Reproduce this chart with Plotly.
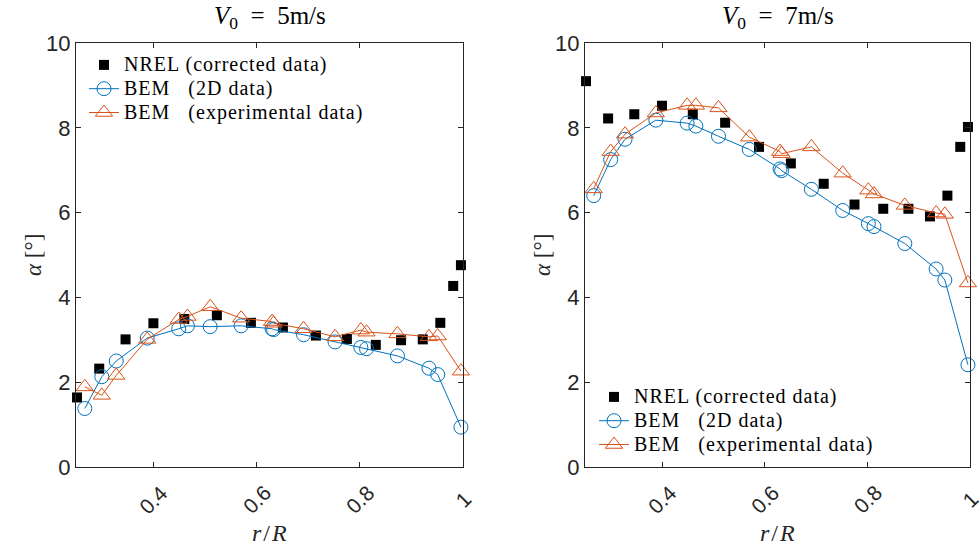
import plotly.graph_objects as go

# ---------------- data ----------------
r_nrel = [0.252, 0.295, 0.346, 0.400, 0.460, 0.523, 0.589, 0.651, 0.715,
          0.775, 0.831, 0.880, 0.922, 0.956, 0.981, 0.996]
alpha_nrel_5 = [1.64, 2.32, 3.01, 3.39, 3.49, 3.58, 3.40, 3.29, 3.10,
                3.02, 2.88, 2.99, 3.01, 3.40, 4.27, 4.76]
alpha_nrel_7 = [9.10, 8.22, 8.32, 8.52, 8.32, 8.12, 7.55, 7.16, 6.68,
                6.19, 6.09, 6.09, 5.91, 6.40, 7.55, 8.02]

r_bem = [0.267, 0.300, 0.328, 0.388, 0.449, 0.466, 0.510, 0.570, 0.630,
         0.633, 0.691, 0.752, 0.802, 0.813, 0.873, 0.934, 0.951, 0.996]
alpha_2d_5 = [1.38, 2.13, 2.50, 3.04, 3.26, 3.33, 3.31, 3.33, 3.26,
              3.24, 3.12, 2.95, 2.82, 2.79, 2.62, 2.33, 2.18, 0.94]
alpha_exp_5 = [1.89, 1.69, 2.16, 3.01, 3.48, 3.55, 3.78, 3.51, 3.43,
               3.39, 3.26, 3.07, 3.23, 3.18, 3.14, 3.07, 3.09, 2.26]
alpha_2d_7 = [6.40, 7.25, 7.73, 8.18, 8.11, 8.04, 7.80, 7.49, 7.03,
              6.99, 6.55, 6.05, 5.74, 5.67, 5.27, 4.67, 4.41, 2.41]
alpha_exp_7 = [6.56, 7.44, 7.85, 8.35, 8.53, 8.53, 8.47, 7.78, 7.44,
               7.39, 7.55, 6.93, 6.53, 6.44, 6.17, 5.99, 5.96, 4.34]

x_ticks = [0.4, 0.6, 0.8, 1.0]
x_ticklabels = ["0.4", "0.6", "0.8", "1"]
y_ticks = [0, 2, 4, 6, 8, 10]
y_ticklabels = ["0", "2", "4", "6", "8", "10"]

legend_names = ["NREL (corrected data)", "BEM&#160;&#160;&#160;(2D data)",
                "BEM&#160;&#160;&#160;(experimental data)"]
titles = ["<i>V</i><sub>0</sub>&#8194;=&#8194;5m/s",
          "<i>V</i><sub>0</sub>&#8194;=&#8194;7m/s"]

BLUE = "#0072BD"
ORANGE = "#D95319"
AX = "#262626"
SERIF = "Liberation Serif"
SANS = "Liberation Sans"

W, H = 980, 551
# axes boxes in pixels
boxes = [(76, 463), (585, 970)]
y_top, y_bot = 43, 467


def big(s):
    return '<span style="font-size:20px;letter-spacing:1px">' + s + '</span>'


fig = go.Figure()

panels = [(alpha_nrel_5, alpha_2d_5, alpha_exp_5),
          (alpha_nrel_7, alpha_2d_7, alpha_exp_7)]
for i, (an, a2, ae) in enumerate(panels):
    xa = "x" if i == 0 else "x2"
    ya = "y" if i == 0 else "y2"
    lg = "legend" if i == 0 else "legend2"
    fig.add_trace(go.Scatter(x=r_nrel, y=an, mode="markers", name=big(legend_names[0]),
                             marker=dict(symbol="square", size=10, color="black"),
                             xaxis=xa, yaxis=ya, legend=lg, cliponaxis=False))
    fig.add_trace(go.Scatter(x=r_bem, y=a2, mode="lines+markers", name=big(legend_names[1]),
                             line=dict(color=BLUE, width=1),
                             marker=dict(symbol="circle-open", size=14, color=BLUE,
                                         line=dict(width=1, color=BLUE)),
                             xaxis=xa, yaxis=ya, legend=lg, cliponaxis=False))
    fig.add_trace(go.Scatter(x=r_bem, y=ae, mode="lines+markers", name=big(legend_names[2]),
                             line=dict(color=ORANGE, width=1),
                             marker=dict(symbol="triangle-up-open", size=15, color=ORANGE,
                                         line=dict(width=1, color=ORANGE)),
                             xaxis=xa, yaxis=ya, legend=lg, cliponaxis=False))

axis_common = dict(showline=True, linecolor=AX, linewidth=1, mirror="ticks",
                   ticks="inside", ticklen=5, tickcolor=AX, showgrid=False,
                   zeroline=False, automargin=False)

ydom = [1 - y_bot / H, 1 - y_top / H]
layout = dict(width=W, height=H, margin=dict(l=0, r=0, t=0, b=0),
              paper_bgcolor="white", plot_bgcolor="white", showlegend=True)
for i, (x0, x1) in enumerate(boxes):
    sx = "" if i == 0 else "2"
    layout["xaxis" + sx] = dict(domain=[x0 / W, x1 / W], range=[0.25, 1.0],
                                tickvals=x_ticks, showticklabels=False,
                                anchor="y" + sx, **axis_common)
    layout["yaxis" + sx] = dict(domain=ydom, range=[0, 10], tickvals=y_ticks,
                                ticktext=y_ticklabels, anchor="x" + sx,
                                tickfont=dict(family=SANS, size=22, color=AX),
                                **axis_common)

legend_common = dict(bgcolor="rgba(0,0,0,0)", borderwidth=0,
                     font=dict(family=SERIF, size=16, color="black"),
                     xanchor="left", yanchor="top", tracegroupgap=0,
                     itemwidth=30)
layout["legend"] = dict(x=84 / W, y=1 - 48 / H, **legend_common)
layout["legend2"] = dict(x=594 / W, y=1 - 380 / H, **legend_common)

fig.update_layout(**layout)

ann = []
for i, (x0, x1) in enumerate(boxes):
    xc = (x0 + x1) / 2 / W
    ann.append(dict(text=titles[i], x=xc, y=1 - 18 / H, xref="paper", yref="paper",
                    showarrow=False, font=dict(family=SERIF, size=25, color="black"),
                    xanchor="center", yanchor="middle"))
    ann.append(dict(text="<i>r</i>&#8202;/&#8202;<i>R</i>", x=xc, y=1 - 533 / H,
                    xref="paper", yref="paper", showarrow=False,
                    font=dict(family=SERIF, size=24, color=AX),
                    xanchor="center", yanchor="middle"))
    ann.append(dict(text="<i>α</i> [°]", x=(x0 - 42) / W, y=1 - 255 / H, xref="paper",
                    yref="paper", showarrow=False, textangle=-90,
                    font=dict(family=SERIF, size=23, color=AX),
                    xanchor="center", yanchor="middle"))
    for tv, tt in zip(x_ticks, x_ticklabels):
        ann.append(dict(text=tt, x=tv, y=1 - 499 / H, xref="x" if i == 0 else "x2",
                        yref="paper", showarrow=False, textangle=-45,
                        font=dict(family=SANS, size=21, color=AX),
                        xanchor="center", yanchor="middle"))
fig.update_layout(annotations=ann)

fig.write_html("out.html", config={"displayModeBar": False},
               post_script="document.body.style.margin='0';")
